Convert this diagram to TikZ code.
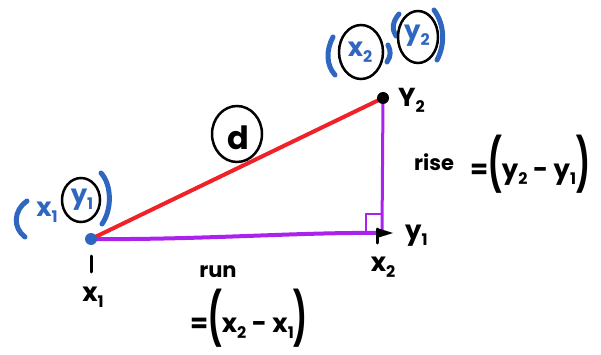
\documentclass[tikz,border=0pt]{standalone}
\usepackage{fontspec}
\setmainfont{Poppins}
\usetikzlibrary{arrows.meta}
\definecolor{pblue}{HTML}{2F66C0}
\definecolor{pred}{HTML}{EE2228}
\definecolor{ppurple}{HTML}{AA22EE}
\newcommand{\hsub}[1]{\raisebox{-6pt}{\fontsize{16}{16}\selectfont #1}}
\newcommand{\bigpar}[1]{\raisebox{-4pt}{\scalebox{1.1}[2.0]{#1}}}
\begin{document}
\begin{tikzpicture}[x=1pt,y=-1pt,
  lbl/.style={font=\fontsize{26}{26}\selectfont\bfseries, inner sep=0pt},
  small/.style={font=\fontsize{21}{21}\selectfont\bfseries, inner sep=0pt},
  blbl/.style={lbl, text=pblue},
  ring/.style={draw=black, line width=2.5pt},
  bpar/.style={draw=pblue, line width=5pt, line cap=round},
  stroke/.style={line width=3pt, line cap=round}]
\useasboundingbox (0,0) rectangle (601,355);
\fill[white] (0,0) rectangle (601,355);
% key points
\coordinate (p1) at (91,239);
\coordinate (p2) at (383,98);
\coordinate (c) at (382,233);
% lines
\draw[pred, line width=4pt] (p1) -- (p2);
\draw[ppurple, line width=4pt, line cap=round] (p1) .. controls (200,240) and (300,232) .. (c);
\draw[ppurple, line width=3pt] (c) -- (p2);
\draw[ppurple, line width=2.5pt] (382,214) -- (366,214) -- (366,232);
\fill[pblue] (p1) circle (6);
\fill[black] (p2) circle (6);
% corner mark
\fill[black] (377,228) -- (393,233) -- (377,238) -- cycle;
\draw[black, stroke] (377,229) -- (377,243);
% circled d
\draw[ring] (237,134) ellipse (25 and 28);
\node[lbl] (d) at (238,138) {\fontsize{32}{32}\selectfont d};
% top labels
\node[lbl, anchor=west] (y2) at (398,100) {Y\hsub{2}};
\node[lbl, anchor=west] (y1c) at (405,236) {y\hsub{1}};
\node[lbl] (x2) at (383,267) {x\hsub{2}};
\draw[black, stroke] (91,256) -- (91,272);
\node[lbl] (x1) at (93,297) {x\hsub{1}};
% run
\node[small] (run) at (218,272) {run};
\node[lbl, anchor=west] (runeq) at (190,318) {=\bigpar{(}x\hsub{2} - x\hsub{1}\bigpar{)}};
% rise
\node[small, anchor=west] (rise) at (414,162) {rise};
\node[lbl, anchor=west] (riseeq) at (470,164) {=\bigpar{(}y\hsub{2} - y\hsub{1}\bigpar{)}};
% left blue (x1, y1)
\draw[bpar] (27,201) .. controls (13,211) and (13,228) .. (25,237);
\node[blbl] (bx1) at (47,212) {x\hsub{1}};
\node[blbl] (by1) at (82,200) {y\hsub{1}};
\draw[ring] (81,200) ellipse (19 and 22);
\draw[bpar] (101,173) .. controls (112,185) and (112,210) .. (102,224);
% top blue (x2, y2)
\draw[bpar] (333,37) .. controls (326,50) and (326,65) .. (335,75);
\node[blbl] (bx2) at (360,52) {x\hsub{2}};
\draw[ring] (361,52) ellipse (22 and 27);
\draw[bpar] (388,45) .. controls (391,51) and (391,56) .. (387,62);
\draw[bpar] (399,14) .. controls (392,22) and (392,30) .. (396,36);
\node[blbl] (by2) at (417,36) {y\hsub{2}};
\draw[ring] (418,37) ellipse (20 and 26);
\draw[bpar] (434,10) .. controls (445,25) and (445,45) .. (437,60);
\end{tikzpicture}
\end{document}
